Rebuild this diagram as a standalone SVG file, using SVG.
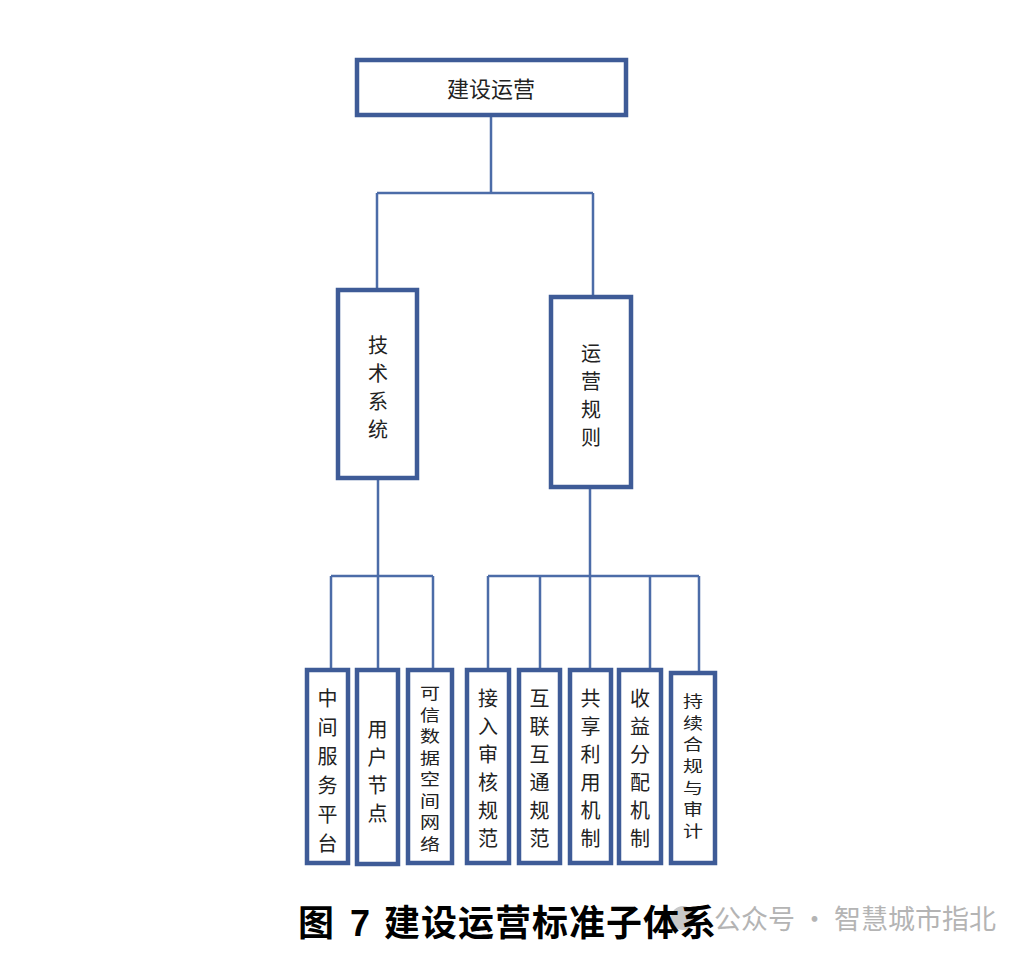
<svg xmlns="http://www.w3.org/2000/svg" width="1034" height="962" viewBox="0 0 1034 962">
<style>
.box{fill:#fff;stroke:#3e5b97;stroke-width:4.5}
.ln{fill:none;stroke:#4c6ca8;stroke-width:2.5}
.t{font-family:"Noto Sans CJK SC","Noto Sans",sans-serif;fill:#222;text-anchor:middle;dominant-baseline:central}
.t22{font-size:22px}
.t20{font-size:20px}
.cap{font-family:"Liberation Sans","Noto Sans CJK SC",sans-serif;font-size:36px;fill:#000;font-weight:bold}
.wm{font-family:"Noto Sans CJK SC",sans-serif;font-size:27px;fill:#b4b4b4}
</style>
<rect width="1034" height="962" fill="#fff"/>
<g id="connectors">
<path class="ln" d="M491 115V193M377 193H593M377 193V290M593 193V297"/>
<path class="ln" d="M378 478V576M331 576H433M331 576V670M378 576V670M433 576V670"/>
<path class="ln" d="M590 487V576M488 576H699M488 576V670M540 576V670M590 576V670M650 576V670M699 576V673"/>
</g>
<g id="n-root"><rect class="box" x="357" y="60" width="269" height="55"/><text class="t t22" x="491" y="87">建设运营</text></g>
<g id="n-tech"><rect class="box" x="338" y="290" width="79" height="188"/>
<text class="t t20"><tspan x="378" y="344">技</tspan><tspan x="378" y="372">术</tspan><tspan x="378" y="400">系</tspan><tspan x="378" y="428">统</tspan></text></g>
<g id="n-ops"><rect class="box" x="551" y="297" width="80" height="190"/>
<text class="t t20"><tspan x="591" y="352">运</tspan><tspan x="591" y="380">营</tspan><tspan x="591" y="408">规</tspan><tspan x="591" y="436">则</tspan></text></g>
<g id="n-mid"><rect class="box" x="307" y="670" width="41" height="193"/>
<text class="t t20"><tspan x="327.5" y="697">中</tspan><tspan x="327.5" y="726">间</tspan><tspan x="327.5" y="755">服</tspan><tspan x="327.5" y="784">务</tspan><tspan x="327.5" y="813">平</tspan><tspan x="327.5" y="842">台</tspan></text></g>
<g id="n-user"><rect class="box" x="357" y="670" width="41" height="194"/>
<text class="t t20"><tspan x="377.5" y="728">用</tspan><tspan x="377.5" y="756">户</tspan><tspan x="377.5" y="784">节</tspan><tspan x="377.5" y="812">点</tspan></text></g>
<g id="n-trust"><rect class="box" x="408" y="670" width="44" height="193"/>
<text class="t t20" transform="scale(1,0.82)"><tspan x="430" y="843.9">可</tspan><tspan x="430" y="870.1">信</tspan><tspan x="430" y="896.3">数</tspan><tspan x="430" y="923.2">据</tspan><tspan x="430" y="948.8">空</tspan><tspan x="430" y="975.6">间</tspan><tspan x="430" y="1001.2">网</tspan><tspan x="430" y="1028">络</tspan></text></g>
<g id="n-access"><rect class="box" x="467" y="670" width="42" height="193"/>
<text class="t t20"><tspan x="488" y="697">接</tspan><tspan x="488" y="725">入</tspan><tspan x="488" y="753">审</tspan><tspan x="488" y="781">核</tspan><tspan x="488" y="809">规</tspan><tspan x="488" y="837">范</tspan></text></g>
<g id="n-inter"><rect class="box" x="519" y="670" width="41" height="193"/>
<text class="t t20"><tspan x="539.5" y="697">互</tspan><tspan x="539.5" y="725">联</tspan><tspan x="539.5" y="753">互</tspan><tspan x="539.5" y="781">通</tspan><tspan x="539.5" y="809">规</tspan><tspan x="539.5" y="837">范</tspan></text></g>
<g id="n-share"><rect class="box" x="570" y="670" width="41" height="193"/>
<text class="t t20"><tspan x="590.5" y="697">共</tspan><tspan x="590.5" y="725">享</tspan><tspan x="590.5" y="753">利</tspan><tspan x="590.5" y="781">用</tspan><tspan x="590.5" y="809">机</tspan><tspan x="590.5" y="837">制</tspan></text></g>
<g id="n-income"><rect class="box" x="619" y="670" width="42" height="193"/>
<text class="t t20"><tspan x="640" y="697">收</tspan><tspan x="640" y="725">益</tspan><tspan x="640" y="753">分</tspan><tspan x="640" y="781">配</tspan><tspan x="640" y="809">机</tspan><tspan x="640" y="837">制</tspan></text></g>
<g id="n-comply"><rect class="box" x="671" y="673" width="44" height="190"/>
<text class="t t20" transform="scale(1,0.78)"><tspan x="693" y="897.4">持</tspan><tspan x="693" y="925.6">续</tspan><tspan x="693" y="952.6">合</tspan><tspan x="693" y="980.8">规</tspan><tspan x="693" y="1009">与</tspan><tspan x="693" y="1035.9">审</tspan><tspan x="693" y="1064.1">计</tspan></text></g>
<g id="watermark">
<circle cx="683" cy="918" r="12" fill="#c8c8c8"/>
<text class="wm" x="714" y="929">公众号 · 智慧城市指北</text>
</g>
<text class="cap" y="936"><tspan x="298">图</tspan><tspan x="350">7</tspan><tspan x="384" letter-spacing="1">建设运营标准子体系</tspan></text>
</svg>
